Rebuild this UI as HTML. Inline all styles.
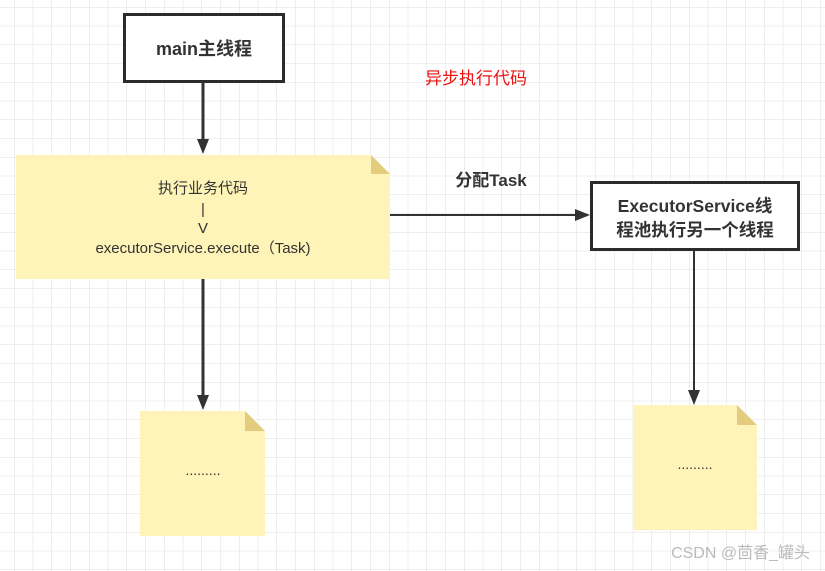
<!DOCTYPE html>
<html><head><meta charset="utf-8"><style>
body{margin:0;background:#fff;}
svg{display:block;}
text{font-family:"Liberation Sans","Noto Sans CJK SC",sans-serif;}
</style></head><body>
<svg width="825" height="571" viewBox="0 0 825 571" xmlns="http://www.w3.org/2000/svg">
<defs>
<pattern id="g" x="14" y="7" width="18.75" height="18.75" patternUnits="userSpaceOnUse">
<path d="M0 0H18.75M0 0V18.75" stroke="#dedede" stroke-width="1" fill="none"/>
</pattern>
</defs>
<rect width="825" height="571" fill="#fff"/>
<rect width="825" height="571" fill="url(#g)"/>
<rect x="124.5" y="14.5" width="159" height="67" fill="#fff" stroke="#2b2b2b" stroke-width="3"/>
<text x="204" y="55" font-size="18" font-weight="bold" fill="#333" text-anchor="middle">main主线程</text>
<text x="476" y="84" font-size="17" fill="#ee1111" text-anchor="middle">异步执行代码</text>
<line x1="203" y1="82" x2="203" y2="142" stroke="#333" stroke-width="3"/>
<polygon points="197,139 209,139 203,154" fill="#333"/>
<polygon points="16,155 371,155 390,174 390,279 16,279" fill="#fff4b8"/>
<polygon points="371,155 390,174 371,174" fill="#e4cc7e"/>
<text x="203" y="193" font-size="15" fill="#333" text-anchor="middle">执行业务代码</text>
<text x="203" y="214" font-size="15" fill="#333" text-anchor="middle">|</text>
<text x="203" y="233" font-size="15" fill="#333" text-anchor="middle">V</text>
<text x="203" y="253" font-size="15" fill="#333" text-anchor="middle">executorService.execute（Task)</text>
<line x1="390" y1="215" x2="578" y2="215" stroke="#333" stroke-width="2"/>
<polygon points="575,209 590,215 575,221" fill="#333"/>
<text x="491" y="186" font-size="17" font-weight="bold" fill="#333" text-anchor="middle">分配Task</text>
<rect x="591.5" y="182.5" width="207" height="67" fill="#fff" stroke="#2b2b2b" stroke-width="3"/>
<text x="695" y="212" font-size="17.5" font-weight="bold" fill="#333" text-anchor="middle">ExecutorService线</text>
<text x="695" y="236" font-size="17.5" font-weight="bold" fill="#333" text-anchor="middle">程池执行另一个线程</text>
<line x1="203" y1="279" x2="203" y2="398" stroke="#333" stroke-width="3"/>
<polygon points="197,395 209,395 203,410" fill="#333"/>
<line x1="694" y1="250" x2="694" y2="392" stroke="#333" stroke-width="2"/>
<polygon points="688,390 700,390 694,405" fill="#333"/>
<polygon points="140,411 245,411 265,431 265,536 140,536" fill="#fff4b8"/>
<polygon points="245,411 265,431 245,431" fill="#e4cc7e"/>
<text x="203" y="475" font-size="14" fill="#333" text-anchor="middle">.........</text>
<polygon points="633,405 737,405 757,425 757,530 633,530" fill="#fff4b8"/>
<polygon points="737,405 757,425 737,425" fill="#e4cc7e"/>
<text x="695" y="469" font-size="14" fill="#333" text-anchor="middle">.........</text>
<text x="810" y="558" font-size="16" fill="#bbb" text-anchor="end">CSDN @茴香_罐头</text>
</svg>
</body></html>
